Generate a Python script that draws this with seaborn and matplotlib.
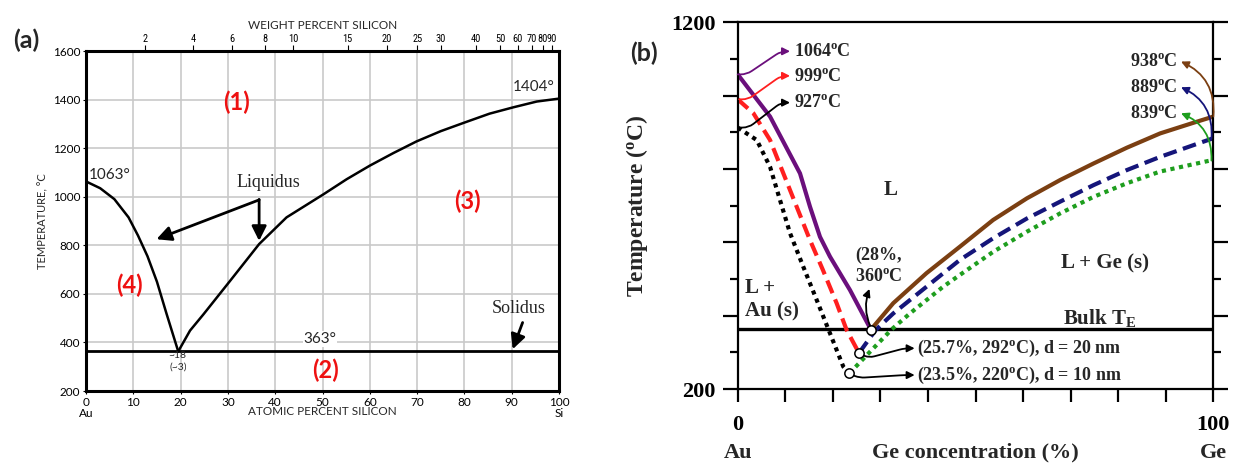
import numpy as np
import matplotlib
matplotlib.use("Agg")
import matplotlib.pyplot as plt
from matplotlib import font_manager
import seaborn as sns

# ---------------- panel (a): Au-Si phase diagram ----------------
au_si_liq_left_x = [0, 3, 6, 9, 11, 13, 15, 17, 19.5]
au_si_liq_left_t = [1063, 1035, 990, 915, 840, 755, 650, 520, 363]
au_si_liq_right_x = [19.5, 22, 24.8, 30.4, 36.6, 42.4, 50.2, 55.1, 60, 65, 69.9, 75, 80.1, 85.3, 90.3, 95.3, 100]
au_si_liq_right_t = [363, 449, 515, 652, 805, 915, 1010, 1072, 1128, 1180, 1228, 1270, 1306, 1342, 1368, 1392, 1404]
au_si_solidus_x = [0, 100]
au_si_solidus_t = [363, 363]
a_xticks = [0, 10, 20, 30, 40, 50, 60, 70, 80, 90, 100]
a_xticklabels = ["0\nAu", "10", "20", "30", "40", "50", "60", "70", "80", "90", "100\nSi"]
a_yticks = [200, 400, 600, 800, 1000, 1200, 1400, 1600]
wt_ticks = [2, 4, 6, 8, 10, 15, 20, 25, 30, 40, 50, 60, 70, 80, 90]
wt_ticklabels = [str(v) for v in wt_ticks]

# ---------------- panel (b): Au-Ge nano phase diagram ----------------
bulk_left_x = [0, 6.8, 13.1, 15.2, 17.3, 19.4, 23.6, 28]
bulk_left_t = [1058, 943, 788, 697, 615, 561, 470, 362]
d20_left_x = [0, 3.3, 6.8, 9.6, 12.4, 15.2, 17.9, 20.8, 22.9, 25.5]
d20_left_t = [990, 952, 879, 788, 697, 606, 525, 434, 361, 298]
d10_left_x = [0, 4.0, 6.8, 8.9, 11.0, 13.8, 16.6, 19.4, 22.2, 23.5]
d10_left_t = [913, 879, 806, 715, 625, 533, 443, 352, 261, 243]
bulk_right_x = [28, 32.7, 39.7, 46.7, 53.7, 60.8, 67.8, 74.8, 81.8, 88.8, 95.8, 100]
bulk_right_t = [362, 434, 516, 588, 661, 720, 770, 815, 858, 897, 926, 943]
d20_right_x = [25.5, 29, 32.7, 39.7, 46.7, 53.7, 60.8, 67.8, 74.8, 81.8, 88.8, 95.8, 100]
d20_right_t = [298, 361, 406, 479, 552, 611, 665, 711, 756, 797, 833, 865, 884]
d10_right_x = [23.5, 28, 32.4, 36.2, 43.2, 46.7, 53.7, 60.8, 67.8, 74.8, 81.8, 88.8, 95.8, 100]
d10_right_t = [243, 304, 363, 406, 479, 511, 574, 629, 679, 724, 761, 793, 813, 825]
eutectic_x = [28, 25.5, 23.5]
eutectic_t = [362, 298, 243]
bulk_te_x = [0, 100]
bulk_te_t = [363, 363]
b_xticks = [0, 10, 20, 30, 40, 50, 60, 70, 80, 90, 100]
b_xticklabels = ["0", "", "", "", "", "", "", "", "", "", "100"]
b_yticks = [200, 400, 600, 800, 1000, 1200]
b_yticklabels = ["200", "", "", "", "", "1200"]
b_yminor = [300, 500, 700, 900, 1100]

PURPLE = "#6b0f7c"
RED = "#ff1f1f"
BROWN = "#7b3f12"
NAVY = "#15157a"
GREEN = "#1e9e1e"

sns.set_theme(style="white")
plt.rcParams["font.family"] = ["Lato", "DejaVu Sans"]
plt.rcParams["mathtext.fontset"] = "custom"
plt.rcParams["mathtext.rm"] = "Liberation Serif:bold"
plt.rcParams["mathtext.it"] = "Liberation Serif:bold"
plt.rcParams["mathtext.bf"] = "Liberation Serif:bold"


def pick_font(candidates, default):
    for name in candidates:
        try:
            font_manager.findfont(font_manager.FontProperties(family=name),
                                  fallback_to_default=False)
            return name
        except Exception:
            continue
    return default


NARROW = pick_font(["Liberation Sans Narrow", "Roboto Condensed", "Open Sans Condensed"], "Roboto")

fig = plt.figure(figsize=(12.39, 4.68), dpi=100)
axa = fig.add_axes([0.0694, 0.1645, 0.3818, 0.7265])
axb = fig.add_axes([0.5954, 0.1688, 0.3839, 0.7835])

# ======================= panel (a) =======================
axa.set_xlim(0, 100)
axa.set_ylim(200, 1600)
axa.set_xticks(a_xticks)
axa.set_xticklabels(a_xticklabels, linespacing=1.0)
axa.set_yticks(a_yticks)
axa.grid(True, color="#c9c9c9", lw=1.2)
axa.set_axisbelow(True)
for s in axa.spines.values():
    s.set_linewidth(2.2)
    s.set_color("black")
axa.tick_params(axis="both", which="both", length=2, width=0.8, labelsize=8.5,
                pad=2, colors="black", left=True, bottom=False)

sns.lineplot(x=au_si_liq_left_x, y=au_si_liq_left_t, ax=axa, color="black", lw=1.8,
             sort=False, estimator=None)
sns.lineplot(x=au_si_liq_right_x, y=au_si_liq_right_t, ax=axa, color="black", lw=1.8,
             sort=False, estimator=None)
sns.lineplot(x=au_si_solidus_x, y=au_si_solidus_t, ax=axa, color="black", lw=2.0,
             sort=False, estimator=None)

axa.set_xlabel("ATOMIC PERCENT SILICON", fontsize=8.5)
axa.xaxis.set_label_coords(0.5, -0.045)
axa.xaxis.label.set_va("top")
axa.set_ylabel("TEMPERATURE, °C", fontsize=8)
axa.yaxis.set_label_coords(-0.08, 0.5)


def wt_to_at(w):
    w = np.asarray(w, dtype=float)
    nsi = w / 28.086
    nau = (100 - w) / 196.97
    return 100 * nsi / (nsi + nau)


axt = axa.twiny()
axt.set_xlim(0, 100)
axt.set_xticks(wt_to_at(wt_ticks))
axt.set_xticklabels(wt_ticklabels)
axt.grid(False)
for s in axt.spines.values():
    s.set_visible(False)
axt.tick_params(axis="x", top=True, length=4, width=0.8, labelsize=7.5, pad=1,
                colors="black", direction="out")
for lab in axt.get_xticklabels():
    lab.set_fontfamily(NARROW)
axt.set_xlabel("WEIGHT PERCENT SILICON", fontsize=8.5, labelpad=4)

axa.text(0.6, 1090, "1063°", fontsize=11, ha="left", va="center")
axa.text(99, 1425, "1404°", fontsize=11, ha="right", va="bottom")
axa.text(49.5, 415, "363°", fontsize=11, ha="center", va="center",
         bbox=dict(facecolor="white", edgecolor="none", pad=0.5))
axa.text(19.4, 345, "~18", fontsize=7.5, ha="center", va="center")
axa.text(19.4, 300, "(~3)", fontsize=7.5, ha="center", va="center")

axa.text(38.5, 1060, "Liquidus", fontsize=13, family="Liberation Serif",
         ha="center", va="center")
arrow_kw = dict(arrowstyle="-|>", color="black", lw=2.0, mutation_scale=22,
                shrinkA=0, shrinkB=0)
axa.annotate("", xy=(14.9, 825), xytext=(36.6, 987), arrowprops=arrow_kw)
axa.annotate("", xy=(36.6, 818), xytext=(36.6, 989), arrowprops=arrow_kw)
axa.text(91.5, 540, "Solidus", fontsize=13, family="Liberation Serif",
         ha="center", va="center")
axa.annotate("", xy=(90.2, 372), xytext=(92.3, 482), arrowprops=arrow_kw)

red_kw = dict(fontsize=17, color="#ee1111", fontweight="bold", ha="center", va="center")
axa.text(31.9, 1390, "(1)", **red_kw)
axa.text(50.6, 287, "(2)", **red_kw)
axa.text(80.6, 980, "(3)", **red_kw)
axa.text(9.2, 637, "(4)", **red_kw)

fig.text(26 / 1239, 1 - 40 / 468, "(a)", fontsize=18, fontweight="bold",
         ha="center", va="center")

# ======================= panel (b) =======================
axb.set_xlim(0, 100)
axb.set_ylim(200, 1200)
for s in axb.spines.values():
    s.set_linewidth(1.6)
    s.set_color("black")
axb.set_xticks(b_xticks)
axb.set_xticklabels(b_xticklabels)
axb.set_yticks(b_yticks)
axb.set_yticklabels(b_yticklabels)
axb.set_yticks(b_yminor, minor=True)
axb.tick_params(axis="x", which="major", direction="out", length=9.5, width=1.6,
                bottom=True, colors="black", pad=9)
axb.tick_params(axis="y", which="major", direction="out", length=11, width=1.6,
                left=True, right=True, colors="black", pad=5)
axb.tick_params(axis="y", which="minor", direction="out", length=6, width=1.6,
                left=True, right=True, colors="black")
for lab in axb.get_xticklabels() + axb.get_yticklabels():
    lab.set_fontfamily("Liberation Serif")
    lab.set_fontweight("bold")
    lab.set_fontsize(16)

sns.lineplot(x=bulk_te_x, y=bulk_te_t, ax=axb, color="black", lw=2.4,
             sort=False, estimator=None)
sns.lineplot(x=d10_left_x, y=d10_left_t, ax=axb, color="black", lw=3,
             linestyle=(0, (1, 1.1)), sort=False, estimator=None)
sns.lineplot(x=d20_left_x, y=d20_left_t, ax=axb, color=RED, lw=3,
             linestyle=(0, (3.3, 1.6)), sort=False, estimator=None)
sns.lineplot(x=bulk_left_x, y=bulk_left_t, ax=axb, color=PURPLE, lw=3,
             sort=False, estimator=None)
sns.lineplot(x=d10_right_x, y=d10_right_t, ax=axb, color=GREEN, lw=3,
             linestyle=(0, (1, 1.1)), sort=False, estimator=None)
sns.lineplot(x=d20_right_x, y=d20_right_t, ax=axb, color=NAVY, lw=3,
             linestyle=(0, (3.3, 1.6)), sort=False, estimator=None)
sns.lineplot(x=bulk_right_x, y=bulk_right_t, ax=axb, color=BROWN, lw=3,
             sort=False, estimator=None)
sns.scatterplot(x=eutectic_x, y=eutectic_t, ax=axb, s=45, facecolor="white",
                edgecolor="black", linewidth=1.1, zorder=6)

serif = dict(family="Liberation Serif", fontweight="bold")
axb.set_xlabel("Ge concentration (%)", fontsize=16, **serif)
axb.xaxis.set_label_coords(0.5, -0.145)
axb.xaxis.label.set_va("top")
axb.set_ylabel(r"Temperature ($\mathregular{^o}$C)", fontsize=17, **serif)
axb.yaxis.set_label_coords(-0.185, 0.5)
axb.text(0, -0.175, "Au", transform=axb.get_xaxis_transform(), fontsize=16,
         ha="center", va="center", **serif)
axb.text(100, -0.175, "Ge", transform=axb.get_xaxis_transform(), fontsize=16,
         ha="center", va="center", **serif)


def deg(v):
    return r"%s$^{\rm o}$C" % v


def carrow(color, start, end, style):
    axb.annotate("", xy=end, xytext=start,
                 arrowprops=dict(arrowstyle="-|>", color=color, lw=1.3,
                                 mutation_scale=11, shrinkA=0, shrinkB=0,
                                 connectionstyle=style))


S_LEFT = "arc,angleA=0,armA=9,angleB=180,armB=9,rad=6"
tfs = 13
carrow(PURPLE, (0, 1058), (11.0, 1121), S_LEFT)
axb.text(11.8, 1120, deg(1064), fontsize=tfs, ha="left", va="center", **serif)
carrow(RED, (0.3, 990), (11.0, 1054), S_LEFT)
axb.text(11.8, 1053, deg(999), fontsize=tfs, ha="left", va="center", **serif)
carrow("black", (0.4, 913), (11.0, 981), S_LEFT)
axb.text(11.8, 980, deg(927), fontsize=tfs, ha="left", va="center", **serif)

carrow(BROWN, (100, 943), (93.2, 1093), "arc3,rad=0.35")
axb.text(92.5, 1093, deg(938), fontsize=tfs, ha="right", va="center", **serif)
carrow(NAVY, (99.6, 882), (93.2, 1023), "arc3,rad=0.35")
axb.text(92.5, 1023, deg(889), fontsize=tfs, ha="right", va="center", **serif)
carrow(GREEN, (99.6, 823), (93.2, 952), "arc3,rad=0.35")
axb.text(92.5, 952, deg(839), fontsize=tfs, ha="right", va="center", **serif)

axb.text(32.1, 743, "L", fontsize=15, ha="center", va="center", **serif)
axb.text(77.2, 543, "L + Ge (s)", fontsize=15, ha="center", va="center", **serif)
axb.text(1.5, 476, "L +", fontsize=15, ha="left", va="center", **serif)
axb.text(1.5, 411, "Au (s)", fontsize=15, ha="left", va="center", **serif)
axb.text(76, 393, r"Bulk T$_{\rm E}$", fontsize=15, ha="center", va="center", **serif)
axb.text(29.6, 565, "(28%,", fontsize=tfs, ha="center", va="center", **serif)
axb.text(29.6, 506, deg("360"), fontsize=tfs, ha="center", va="center", **serif)
carrow("black", (27.9, 370), (27.7, 473), "arc3,rad=-0.2")
S_LOW = "arc,angleA=-20,armA=8,angleB=180,armB=10,rad=5"
axb.text(37.6, 311, deg("(25.7%, 292") + "), d = 20 nm", fontsize=tfs,
         ha="left", va="center", **serif)
carrow("black", (26.1, 293), (37.2, 311), S_LOW)
axb.text(37.6, 238, deg("(23.5%, 220") + "), d = 10 nm", fontsize=tfs,
         ha="left", va="center", **serif)
carrow("black", (24.1, 238), (37.2, 238), S_LOW)

fig.text(644 / 1239, 1 - 53 / 468, "(b)", fontsize=18, fontweight="bold",
         ha="center", va="center")

fig.savefig("out.png", dpi=100)
